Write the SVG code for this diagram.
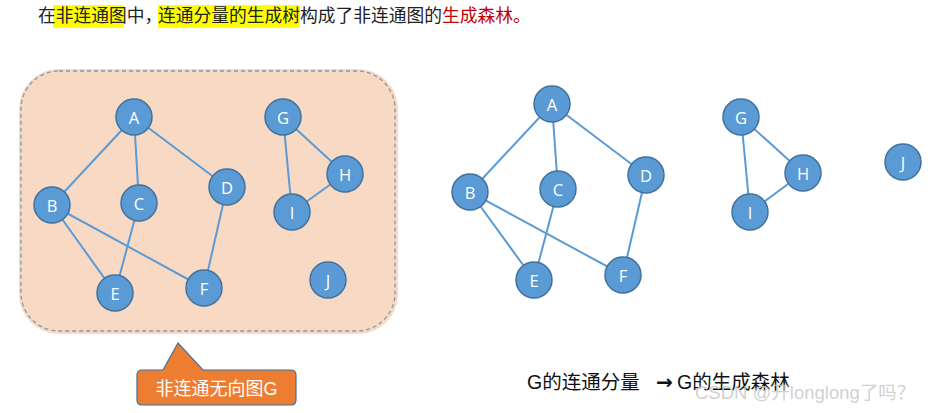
<svg xmlns="http://www.w3.org/2000/svg" width="931" height="413" viewBox="0 0 931 413">
<style>
.cjk{font-family:"Liberation Sans","Noto Sans CJK SC",sans-serif}
.node circle{fill:#5B9BD5;stroke:#41719C;stroke-width:1.5}
.node text{fill:#fff;font-family:"Open Sans","Noto Sans",sans-serif;font-size:16.5px;text-anchor:middle;dominant-baseline:central}
.edges line{stroke:#5B9BD5;stroke-width:2}
</style>
<rect width="931" height="413" fill="#fff"/>
<g id="title">
<rect x="53" y="5" width="71" height="23" fill="#FFFF00"/>
<rect x="158" y="5" width="142" height="23" fill="#FFFF00"/>
<text class="cjk" x="38" y="22" font-size="17.75" fill="#222">在非连通图中，<tspan x="158">连通分量的生成树构成了非连通图的</tspan><tspan fill="#C00000">生成森林。</tspan></text>
</g>
<g id="container">
<rect x="19" y="69" width="379" height="265" rx="40" fill="#F8D9C3"/>
<rect x="21" y="71" width="374" height="260" rx="38" fill="none" stroke="#8497B0" stroke-width="1.3" stroke-dasharray="4,3"/>
</g>
<g id="edges" class="edges">
<line x1="134" y1="117" x2="52" y2="205"/>
<line x1="134" y1="117" x2="139" y2="203"/>
<line x1="134" y1="117" x2="227" y2="187"/>
<line x1="52" y1="205" x2="115" y2="293"/>
<line x1="52" y1="205" x2="204" y2="288"/>
<line x1="139" y1="203" x2="115" y2="293"/>
<line x1="227" y1="187" x2="204" y2="288"/>
<line x1="283" y1="117" x2="292" y2="212"/>
<line x1="283" y1="117" x2="345" y2="174"/>
<line x1="345" y1="174" x2="292" y2="212"/>
<line x1="552" y1="104" x2="470" y2="192"/>
<line x1="552" y1="104" x2="558" y2="189"/>
<line x1="552" y1="104" x2="646" y2="175"/>
<line x1="470" y1="192" x2="534" y2="280"/>
<line x1="470" y1="192" x2="623" y2="275"/>
<line x1="558" y1="189" x2="534" y2="280"/>
<line x1="646" y1="175" x2="623" y2="275"/>
<line x1="741" y1="117" x2="750" y2="212"/>
<line x1="741" y1="117" x2="803" y2="173"/>
<line x1="803" y1="173" x2="750" y2="212"/>
</g>
<g id="nA" class="node"><circle cx="134" cy="117" r="18"/><text x="134" y="117">A</text></g>
<g id="nB" class="node"><circle cx="52" cy="205" r="18"/><text x="52" y="205">B</text></g>
<g id="nC" class="node"><circle cx="139" cy="203" r="18"/><text x="139" y="203">C</text></g>
<g id="nD" class="node"><circle cx="227" cy="187" r="18"/><text x="227" y="187">D</text></g>
<g id="nE" class="node"><circle cx="115" cy="293" r="18"/><text x="115" y="293">E</text></g>
<g id="nF" class="node"><circle cx="204" cy="288" r="18"/><text x="204" y="288">F</text></g>
<g id="nG" class="node"><circle cx="283" cy="117" r="18"/><text x="283" y="117">G</text></g>
<g id="nH" class="node"><circle cx="345" cy="174" r="18"/><text x="345" y="174">H</text></g>
<g id="nI" class="node"><circle cx="292" cy="212" r="18"/><text x="292" y="212">I</text></g>
<g id="nJ" class="node"><circle cx="328" cy="280" r="18"/><text x="328" y="280">J</text></g>
<g id="rA" class="node"><circle cx="552" cy="104" r="18"/><text x="552" y="104">A</text></g>
<g id="rB" class="node"><circle cx="470" cy="192" r="18"/><text x="470" y="192">B</text></g>
<g id="rC" class="node"><circle cx="558" cy="189" r="18"/><text x="558" y="189">C</text></g>
<g id="rD" class="node"><circle cx="646" cy="175" r="18"/><text x="646" y="175">D</text></g>
<g id="rE" class="node"><circle cx="534" cy="280" r="18"/><text x="534" y="280">E</text></g>
<g id="rF" class="node"><circle cx="623" cy="275" r="18"/><text x="623" y="275">F</text></g>
<g id="rG" class="node"><circle cx="741" cy="117" r="18"/><text x="741" y="117">G</text></g>
<g id="rH" class="node"><circle cx="803" cy="173" r="18"/><text x="803" y="173">H</text></g>
<g id="rI" class="node"><circle cx="750" cy="212" r="18"/><text x="750" y="212">I</text></g>
<g id="rJ" class="node"><circle cx="903" cy="162" r="18"/><text x="903" y="162">J</text></g>
<g id="callout">
<path d="M142,370 H163 L178,343 L203,370 H291 Q296,370 296,375 V400 Q296,405 291,405 H142 Q137,405 137,400 V375 Q137,370 142,370 Z" fill="#ED7D31" stroke="#41719C" stroke-width="1.2"/>
<text class="cjk" x="216.5" y="395" font-size="18" fill="#fff" text-anchor="middle">非连通无向图G</text>
</g>
<g id="caption">
<text class="cjk" x="527" y="389" font-size="19.5" fill="#111">G的连通分量<tspan x="656" font-family="DejaVu Sans" font-weight="bold" font-size="20">→</tspan><tspan x="677">G的生成森林</tspan></text>
</g>
<text class="cjk" x="695" y="399" font-size="18.5" fill="#c8c8c8" fill-opacity="0.85">CSDN @开longlong了吗？</text>
</svg>
